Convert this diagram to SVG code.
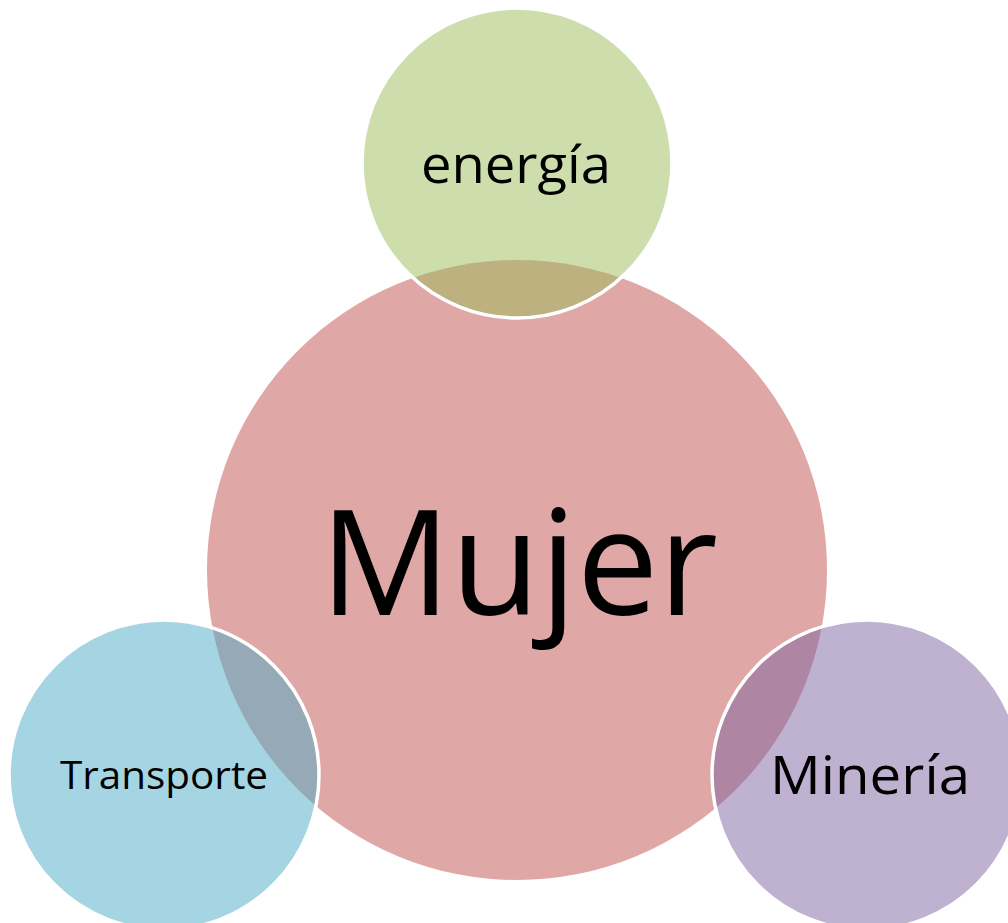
<svg xmlns="http://www.w3.org/2000/svg" width="1008" height="923" viewBox="0 0 1008 923">
<style>
.small{stroke:#fff;stroke-width:3.5}
text{font-family:"Open Sans","Noto Sans",sans-serif;fill:#000;text-anchor:middle}
</style>
<rect width="1008" height="923" fill="#fff"/>
<g id="connectors"/>
<g id="mujer">
<circle cx="517" cy="570" r="310" fill="#C0504D" fill-opacity="0.5"/>
<text x="519" y="615" font-size="146" textLength="398" lengthAdjust="spacingAndGlyphs">Mujer</text>
</g>
<g id="energia">
<circle class="small" cx="517" cy="163" r="155" fill="#9BBB59" fill-opacity="0.5"/>
<text x="516" y="183" font-size="51" textLength="190" lengthAdjust="spacingAndGlyphs">energía</text>
</g>
<g id="transporte">
<circle class="small" cx="164" cy="775" r="155" fill="#4BACC6" fill-opacity="0.5"/>
<text x="164" y="789" font-size="39" textLength="208" lengthAdjust="spacingAndGlyphs">Transporte</text>
</g>
<g id="mineria">
<circle class="small" cx="867" cy="775" r="155" fill="#8064A2" fill-opacity="0.5"/>
<text x="870" y="794" font-size="53" textLength="200" lengthAdjust="spacingAndGlyphs">Minería</text>
</g>
</svg>
